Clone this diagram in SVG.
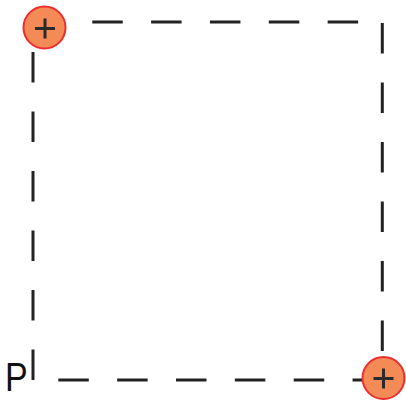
<svg xmlns="http://www.w3.org/2000/svg" width="406" height="402" viewBox="0 0 406 402">
<style>
.edge{stroke:#222;stroke-width:3;fill:none}
.h{stroke-dasharray:30.5 28.35}
.v{stroke-dasharray:30.5 29}
.charge circle{fill:#F48A55;stroke:#EE2E2E;stroke-width:2}
.charge path{stroke:#2a2a2a;stroke-width:3;fill:none}
.lbl{font-family:"Liberation Sans",Arial,sans-serif;font-size:40px;fill:#111}
</style>
<g id="connectors">
<line class="edge h" x1="33.4" y1="22" x2="382" y2="22"/>
<line class="edge v" x1="382.3" y1="23" x2="382.3" y2="380"/>
<line class="edge h" x1="58.3" y1="380" x2="382" y2="380"/>
<line class="edge v" x1="33" y1="52" x2="33" y2="383"/>
</g>
<g id="charge1" class="charge">
<circle cx="44.5" cy="27.5" r="21"/>
<path d="M35 28.5H55M45 18.5V38.5"/>
</g>
<g id="charge2" class="charge">
<circle cx="383.5" cy="378" r="21"/>
<path d="M373.5 378.5H393.5M383.5 368.5V388.5"/>
</g>
<g id="labelP">
<text class="lbl" x="5" y="391" transform="translate(5 0) scale(0.85 1) translate(-5 0)">P</text>
</g>
</svg>
